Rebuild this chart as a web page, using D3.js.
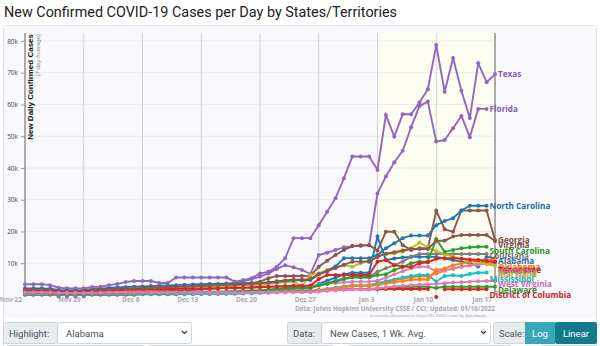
<!DOCTYPE html>
<html>
<head>
<meta charset="utf-8">
<script src="https://cdnjs.cloudflare.com/ajax/libs/d3/7.8.5/d3.min.js"></script>
<style>
  body { margin: 0; background: #fff; }
  svg { display: block; }
</style>
</head>
<body>
<div id="chart"></div>
<script>
// states in the South region, alphabetical (colour follows this order)
var stateNames = ['Alabama', 'Arkansas', 'Delaware', 'District of Columbia', 'Florida', 'Georgia',
    'Kentucky', 'Louisiana', 'Maryland', 'Mississippi', 'North Carolina', 'Oklahoma',
    'South Carolina', 'Tennessee', 'Texas', 'Virginia', 'West Virginia'];

// daily new cases, 7-day average, in thousands, Nov 22 2021 .. Jan 17 2022
var alabama = [0.5,0.5,0.5,0.5, 0.4,0.4,0.4,0.4, 0.4,0.5,0.5,0.5,0.5,0.5,0.5,0.5,0.5,0.5,
    0.5,0.6,0.6,0.6,0.6,0.6,0.7,0.7,0.8,0.9,1.0,1.2,1.5, 1.8,2.0,2.0,2.1,3.5,4.5,5.5,6.5,7.0,7.0,7.0,
    18.4,11.0,11.5,11.8,12.0,12.0,12.0,12.0,11.5,11.0,10.5,10.0,9.0,12.0,11.6];
var arkansas = [0.6,0.6,0.6,0.6, 0.5,0.5,0.5,0.5, 0.6,0.6,0.6,0.6,0.6,0.7,0.7,0.7,0.7,0.7,
    0.7,0.7,0.7,0.7,0.7,0.7,0.7,0.7,0.7,0.8,0.8,0.9,1.0, 1.0,1.1,1.1,1.1,1.5,1.9,2.3,2.7,3.0,3.0,3.0,
    3.6,4.1,4.6,5.2,5.6,5.9,5.9,6.8,7.6,8.3,8.9,9.4,9.9,10.4,10.8];
var delaware = [0.4,0.4,0.4,0.4, 0.3,0.3,0.3,0.3, 0.4,0.4,0.4,0.5,0.5,0.5,0.5,0.5,0.6,0.6,
    0.6,0.6,0.6,0.7,0.7,0.7,0.7,0.7,0.7,0.8,0.8,0.9,1.0, 1.1,1.2,1.2,1.3,1.5,1.6,1.7,1.8,1.9,1.9,1.9,
    2.1,2.3,2.4,2.5,2.6,2.6,2.6,2.2,2.6,2.6,2.6,2.6,2.6,2.6,2.6];
var districtOfColumbia = [0.1,0.1,0.1,0.1, 0.1,0.1,0.1,0.1, 0.1,0.1,0.1,0.1,0.1,0.1,0.2,0.2,0.2,0.2,
    0.2,0.3,0.3,0.3,0.4,0.4,0.5,0.5,0.6,0.7,0.8,0.9,1.0, 1.1,1.1,1.1,1.2,1.4,1.5,1.6,1.7,1.8,1.8,1.8,
    1.8,1.9,1.9,1.9,1.9,1.9,1.9,-0.6,1.8,1.8,1.8,1.8,1.8,1.8,null];
var florida = [1.5,1.5,1.5,1.4, -0.5,-0.5,-0.5,-0.5, 1.4,1.5,1.6,1.6,1.7,1.7,1.7,1.8,1.9,2.0,
    2.1,2.2,2.3,2.5,2.7,3.0,3.3,3.8,4.3,5.0,5.8,6.8,8.2, 9.4,8.7,7.9,6.6,12.6,13.3,14.2,15.0,15.4,15.4,15.7,
    32.0,37.3,41.8,45.4,52.8,59.5,60.9,48.3,48.8,52.5,56.4,49.7,58.6,58.6,null];
var georgia = [1.1,1.1,1.1,1.0, 0.8,0.7,0.7,0.8, 0.9,1.0,1.0,1.1,1.1,1.1,1.2,1.2,1.3,1.3,
    1.4,1.5,1.6,1.7,1.9,2.1,2.4,2.8,3.2,3.7,4.2,5.3,6.0, 6.0,6.0,6.0,6.1,8.9,10.8,12.6,14.2,15.4,15.7,15.7,
    14.0,19.9,19.9,15.7,14.2,14.7,14.7,26.5,20.7,19.9,26.6,26.6,26.6,26.6,17.3];
var kentucky = [1.6,1.6,1.6,1.5, 1.2,1.1,1.1,1.2, 1.4,1.5,1.6,1.7,1.8,1.8,1.9,1.9,2.0,2.0,
    2.0,2.1,2.1,2.1,2.2,2.2,2.2,2.3,2.3,2.3,2.4,2.5,2.6, 2.7,2.8,2.8,2.9,3.2,3.5,3.8,4.0,4.2,4.2,4.2,
    4.5,5.5,6.5,7.5,8.4,8.9,8.9,7.3,7.8,8.4,8.9,9.3,9.6,9.8,10.0];
var louisiana = [0.4,0.4,0.4,0.4, 0.3,0.3,0.3,0.3, 0.4,0.4,0.4,0.4,0.4,0.4,0.4,0.4,0.5,0.5,
    0.5,0.5,0.5,0.6,0.6,0.7,0.7,0.8,0.9,1.0,1.1,1.3,1.6, 1.9,2.1,2.1,2.2,3.0,3.8,4.5,5.2,5.8,5.8,5.8,
    7.3,8.4,9.4,10.5,12.1,12.9,12.9,12.9,12.9,12.9,12.9,12.9,12.9,12.9,null];
var maryland = [1.0,1.0,1.0,0.9, 0.7,0.7,0.7,0.8, 0.9,1.0,1.1,1.2,1.3,1.4,1.5,1.6,1.7,1.8,
    1.9,2.0,2.1,2.3,2.5,2.7,2.9,3.0,3.1,3.1,3.1,3.5,3.8, 4.0,4.2,2.8,6.3,6.8,7.9,8.9,9.4,8.9,10.0,11.0,
    12.3,12.9,13.1,13.6,14.7,16.5,15.0,13.8,12.9,12.1,11.4,10.8,10.2,9.7,9.2];
var mississippi = [0.3,0.3,0.3,0.3, 0.2,0.2,0.2,0.2, 0.3,0.3,0.3,0.3,0.3,0.3,0.3,0.3,0.3,0.3,
    0.3,0.3,0.3,0.3,0.3,0.4,0.4,0.4,0.5,0.5,0.6,0.7,0.8, 0.9,1.0,1.0,1.0,1.4,1.8,2.2,2.6,3.0,3.0,3.0,
    3.7,4.3,4.9,5.5,6.0,6.3,6.3,4.2,6.0,6.2,6.0,6.6,7.0,7.1,null];
var northCarolina = [2.1,2.1,2.1,2.0, 1.6,1.5,1.5,1.6, 1.8,2.0,2.2,2.4,2.5,2.6,2.7,2.8,2.9,3.0,
    3.1,3.2,3.3,3.4,3.5,3.5,3.6,3.6,3.7,3.8,3.8,3.9,4.1, 4.5,4.6,4.6,4.7,6.5,7.5,9.0,11.6,11.6,11.6,11.6,
    12.6,14.7,16.3,17.9,18.7,18.7,18.7,22.0,23.3,24.2,26.6,28.1,28.1,28.1,null];
var oklahoma = [0.9,0.9,0.9,0.8, 0.6,0.6,0.6,0.6, 0.7,0.7,0.8,0.8,0.8,0.8,0.8,0.8,0.8,0.8,
    0.8,0.8,0.8,0.8,0.8,0.8,0.8,0.8,0.8,0.9,0.9,0.9,1.0, 1.0,1.0,1.0,1.0,1.3,1.6,2.0,2.4,2.8,2.8,2.8,
    3.2,3.6,4.0,4.4,4.8,4.9,4.9,7.9,8.3,9.4,9.9,10.5,10.8,11.0,11.2];
var southCarolina = [0.6,0.6,0.6,0.5, 0.4,0.4,0.4,0.4, 0.5,0.5,0.6,0.6,0.6,0.7,0.7,0.7,0.7,0.8,
    0.8,0.8,0.9,0.9,1.0,1.0,1.1,1.2,1.3,1.4,1.5,1.7,2.0, 2.2,2.3,2.3,2.4,3.0,3.5,4.2,5.0,5.5,5.5,5.5,
    6.3,6.5,7.9,8.8,10.0,10.5,10.5,17.6,13.6,14.2,14.7,15.0,15.2,15.2,null];
var tennessee = [1.4,1.4,1.4,1.3, 1.0,0.9,0.9,1.0, 1.2,1.3,1.4,1.5,1.6,1.7,1.7,1.8,1.8,1.9,
    1.9,2.0,2.0,2.0,2.1,2.1,2.2,2.2,2.3,2.4,2.5,2.6,2.7, 2.8,2.9,2.9,3.0,5.0,6.3,6.3,6.3,6.3,6.3,6.3,
    10.5,11.0,9.4,9.0,8.8,10.0,10.3,11.4,11.6,11.6,11.4,11.2,11.0,10.7,10.4];
var texas = [3.4,3.4,3.4,3.1, 2.3,2.1,2.1,2.1, 2.5,2.6,3.1,3.5,4.1,4.4,4.4,4.4,3.8,3.8,
    5.5,5.5,5.5,5.5,5.5,5.5,5.5,4.2,4.7,5.3,6.8,7.3,8.9, 11.6,17.9,17.9,17.9,22.0,26.2,30.5,36.8,43.6,43.6,43.6,
    39.4,56.7,49.9,56.9,56.9,60.6,64.8,78.7,64.0,74.6,64.3,55.7,73.0,67.0,69.5];
var virginia = [1.7,1.7,1.7,1.6, 1.3,1.2,1.2,1.3, 1.5,1.7,1.8,1.9,2.0,2.1,2.2,2.3,2.4,2.5,
    2.6,2.7,2.8,2.9,3.0,3.1,3.2,3.3,3.4,3.5,3.7,4.0,4.3, 4.6,4.8,4.8,5.0,6.5,7.5,8.5,9.5,10.5,10.5,10.5,
    12.0,13.0,13.5,14.0,14.5,14.5,14.5,17.1,17.1,18.4,18.9,18.9,18.9,18.9,17.0];
var westVirginia = [0.8,0.8,0.8,0.8, 0.6,0.6,0.6,0.6, 0.7,0.7,0.8,0.8,0.8,0.8,0.8,0.8,0.8,0.8,
    0.8,0.8,0.8,0.8,0.8,0.8,0.8,0.8,0.8,0.8,0.8,0.9,0.9, 0.9,0.9,0.9,0.9,1.1,1.3,1.5,1.7,1.8,1.8,1.8,
    2.1,2.4,2.7,2.9,3.1,3.3,3.3,3.5,3.7,3.9,4.0,4.2,4.3,4.4,4.5];

var stateValues = [alabama, arkansas, delaware, districtOfColumbia, florida, georgia,
    kentucky, louisiana, maryland, mississippi, northCarolina, oklahoma,
    southCarolina, tennessee, texas, virginia, westVirginia];

var yTickValues = [10, 20, 30, 40, 50, 60, 70, 80];

var firstDay = new Date(2021, 10, 22);
var lastDay = new Date(2022, 0, 17);
var highlightStart = new Date(2022, 0, 3);
var days = d3.timeDay.range(firstDay, d3.timeDay.offset(lastDay, 1));
var weeks = d3.timeDay.range(firstDay, d3.timeDay.offset(lastDay, 1), 7);

var svgWidth = 600;
var svgHeight = 346;

var plot = { left: 25, right: 495, top: 33, bottom: 295 };

var svg = d3.select('#chart')
    .append('svg')
    .attr('width', svgWidth)
    .attr('height', svgHeight);

// title
svg.append('text')
    .attr('x', 4)
    .attr('y', 17)
    .style('font-family', 'Roboto, sans-serif')
    .style('font-size', '14.4px')
    .style('fill', '#222')
    .text('New Confirmed COVID-19 Cases per Day by States/Territories');

// card around the chart
svg.append('rect')
    .attr('x', 3.5).attr('y', 25.5)
    .attr('width', 593).attr('height', 330)
    .attr('rx', 3)
    .attr('fill', '#fff')
    .attr('stroke', '#e2e2e6');

svg.append('rect')
    .attr('x', 4).attr('y', 26)
    .attr('width', 592).attr('height', 292)
    .attr('fill', '#f9f9fd');

// scales
var x = d3.scaleTime()
    .domain([firstDay, lastDay])
    .range([plot.left, plot.right]);

var y = d3.scaleLinear()
    .domain([0, 82.5])
    .range([plot.bottom, plot.top]);

var color = d3.scaleOrdinal()
    .domain(stateNames)
    .range(d3.schemeCategory10);

// highlighted last two weeks
svg.append('rect')
    .attr('x', x(highlightStart))
    .attr('y', plot.top)
    .attr('width', x(lastDay) - x(highlightStart))
    .attr('height', plot.bottom - plot.top)
    .attr('fill', '#fdfdf2');

// horizontal grid
svg.append('g')
    .selectAll('line')
    .data(yTickValues)
    .enter()
    .append('line')
    .attr('x1', plot.left).attr('x2', plot.right)
    .attr('y1', d => y(d)).attr('y2', d => y(d))
    .attr('stroke', '#e9e9ef');

// weekly vertical grid + date labels
svg.append('g')
    .selectAll('line')
    .data(weeks)
    .enter()
    .append('line')
    .attr('x1', d => x(d)).attr('x2', d => x(d))
    .attr('y1', plot.top).attr('y2', plot.bottom)
    .attr('stroke', (d, i) => i == 0 || i == weeks.length - 1 ? '#aaa' : '#d2d2d6')
    .attr('stroke-width', (d, i) => i == 0 || i == weeks.length - 1 ? 2 : 1);

svg.append('g')
    .selectAll('text')
    .data(weeks)
    .enter()
    .append('text')
    .attr('x', d => x(d) - 3)
    .attr('y', 301.5)
    .style('text-anchor', 'end')
    .style('font-family', '"Open Sans", sans-serif')
    .style('font-size', '6.5px')
    .style('font-weight', 'bold')
    .style('fill', '#aaa')
    .text(d3.timeFormat('%b %-d'));

// y axis
var leftAxis = d3.axisLeft(y)
    .tickValues(yTickValues)
    .tickSize(4)
    .tickFormat(d => d + 'k');

var yAxis = svg.append('g')
    .attr('transform', `translate(${plot.left}, 0)`)
    .call(leftAxis);
yAxis.select('.domain').remove();
yAxis.selectAll('line').attr('stroke', '#999');
yAxis.selectAll('text')
    .style('font-family', '"Open Sans", sans-serif')
    .style('font-size', '6.5px')
    .style('fill', '#444');

svg.append('text')
    .attr('transform', `translate(33, ${plot.top + 1}) rotate(-90)`)
    .style('text-anchor', 'end')
    .style('font-family', '"Liberation Sans", sans-serif')
    .style('font-size', '8px')
    .style('font-weight', 'bold')
    .style('fill', '#111')
    .text('New Daily Confirmed Cases');

svg.append('text')
    .attr('transform', `translate(39.5, ${plot.top + 1}) rotate(-90)`)
    .style('text-anchor', 'end')
    .style('font-family', '"Liberation Sans", sans-serif')
    .style('font-size', '6px')
    .style('fill', '#888')
    .text('(7-day Average)');

// series
var series = stateNames.map(function(name, i) {
    return {
        name: name,
        points: stateValues[i].map((v, j) => ({ date: days[j], v: v }))
            .filter(p => p.v != null)
    };
});

var line = d3.line()
    .defined(d => d.v > 0)
    .x(d => x(d.date))
    .y(d => y(d.v));

var seriesGroup = svg.append('g')
    .selectAll('g')
    .data(series)
    .enter()
    .append('g');

seriesGroup.append('path')
    .attr('d', d => line(d.points))
    .attr('fill', 'none')
    .attr('stroke', d => color(d.name))
    .attr('stroke-width', 1.9);

seriesGroup.selectAll('circle')
    .data(d => d.points.map(p => ({ date: p.date, v: p.v, name: d.name })))
    .enter()
    .append('circle')
    .attr('cx', d => x(d.date))
    .attr('cy', d => y(d.v))
    .attr('r', 2)
    .attr('fill', d => color(d.name));

// end labels: pushed down past the one above, but never more than maxShift
var labels = series.map(function(s) {
    var last = s.points[s.points.length - 1];
    return { name: s.name, x: x(last.date) + 3, y: y(last.v), own: y(last.v) };
}).sort((a, b) => a.y - b.y);

var gap = 5.4;
var maxShift = 8;
for (var i = 1; i < labels.length; i++) {
    labels[i].y = Math.min(labels[i].own + maxShift,
        Math.max(labels[i].own, labels[i - 1].y + gap));
}

svg.append('g')
    .selectAll('text')
    .data(labels)
    .enter()
    .append('text')
    .attr('x', d => d.x)
    .attr('y', d => d.y + 2.8)
    .style('font-family', '"Open Sans", sans-serif')
    .style('font-size', '8.2px')
    .style('font-weight', 'bold')
    .style('fill', d => d3.color(color(d.name)).darker(0.3))
    .text(d => d.name);

// source lines
svg.append('text')
    .attr('x', 495)
    .attr('y', 311)
    .style('text-anchor', 'end')
    .style('font-family', '"Open Sans", sans-serif')
    .style('font-size', '6.4px')
    .style('font-weight', 'bold')
    .style('fill', '#aaa')
    .text('Data: Johns Hopkins University CSSE / CCI; Updated: 01/18/2022');

svg.append('text')
    .attr('x', 488)
    .attr('y', 316.5)
    .style('text-anchor', 'end')
    .style('font-family', '"Open Sans", sans-serif')
    .style('font-size', '4px')
    .style('fill', '#999')
    .text('Interactive Visualization: https://91-DIVOC.com/ by @profwade_');

// control row
var controls = svg.append('g')
    .style('font-family', 'Roboto, sans-serif')
    .style('font-size', '9.5px');

function labelBox(x0, x1, txt) {
    controls.append('rect')
        .attr('x', x0 + 0.5).attr('y', 322.5)
        .attr('width', x1 - x0).attr('height', 21)
        .attr('rx', 2)
        .attr('fill', '#e9ecef').attr('stroke', '#ced4da');
    controls.append('text')
        .attr('x', x0 + 6).attr('y', 336.5)
        .style('fill', '#495057')
        .text(txt);
}

function selectBox(x0, x1, txt) {
    controls.append('rect')
        .attr('x', x0 + 0.5).attr('y', 322.5)
        .attr('width', x1 - x0).attr('height', 21)
        .attr('rx', 2)
        .attr('fill', '#fff').attr('stroke', '#ced4da');
    controls.append('text')
        .attr('x', x0 + 9).attr('y', 336.5)
        .style('fill', '#495057')
        .text(txt);
    controls.append('path')
        .attr('d', `M${x1 - 9},331 l2.5,2.5 l2.5,-2.5`)
        .attr('fill', 'none')
        .attr('stroke', '#343a40')
        .attr('stroke-width', 1.2);
}

labelBox(3, 57, 'Highlight:');
selectBox(57, 191, 'Alabama');
labelBox(287, 321, 'Data:');
selectBox(321, 490, 'New Cases, 1 Wk. Avg.');
labelBox(493, 525, 'Scale:');

controls.append('rect')
    .attr('x', 525).attr('y', 322)
    .attr('width', 30).attr('height', 22)
    .attr('fill', '#3aa6b9');
controls.append('rect')
    .attr('x', 555).attr('y', 322)
    .attr('width', 42).attr('height', 22)
    .attr('rx', 2)
    .attr('fill', '#137a8c');
controls.append('text')
    .attr('x', 540).attr('y', 336.5)
    .style('text-anchor', 'middle')
    .style('fill', '#fff')
    .text('Log');
controls.append('text')
    .attr('x', 576).attr('y', 336.5)
    .style('text-anchor', 'middle')
    .style('fill', '#fff')
    .text('Linear');

// top edges of the next control row
[[6, 144], [147, 333], [347, 511], [540, 597]].forEach(function(b) {
    controls.append('rect')
        .attr('x', b[0] + 0.5).attr('y', 345.5)
        .attr('width', b[1] - b[0]).attr('height', 12)
        .attr('rx', 2)
        .attr('fill', '#fff').attr('stroke', '#ced4da');
});
</script>
</body>
</html>
